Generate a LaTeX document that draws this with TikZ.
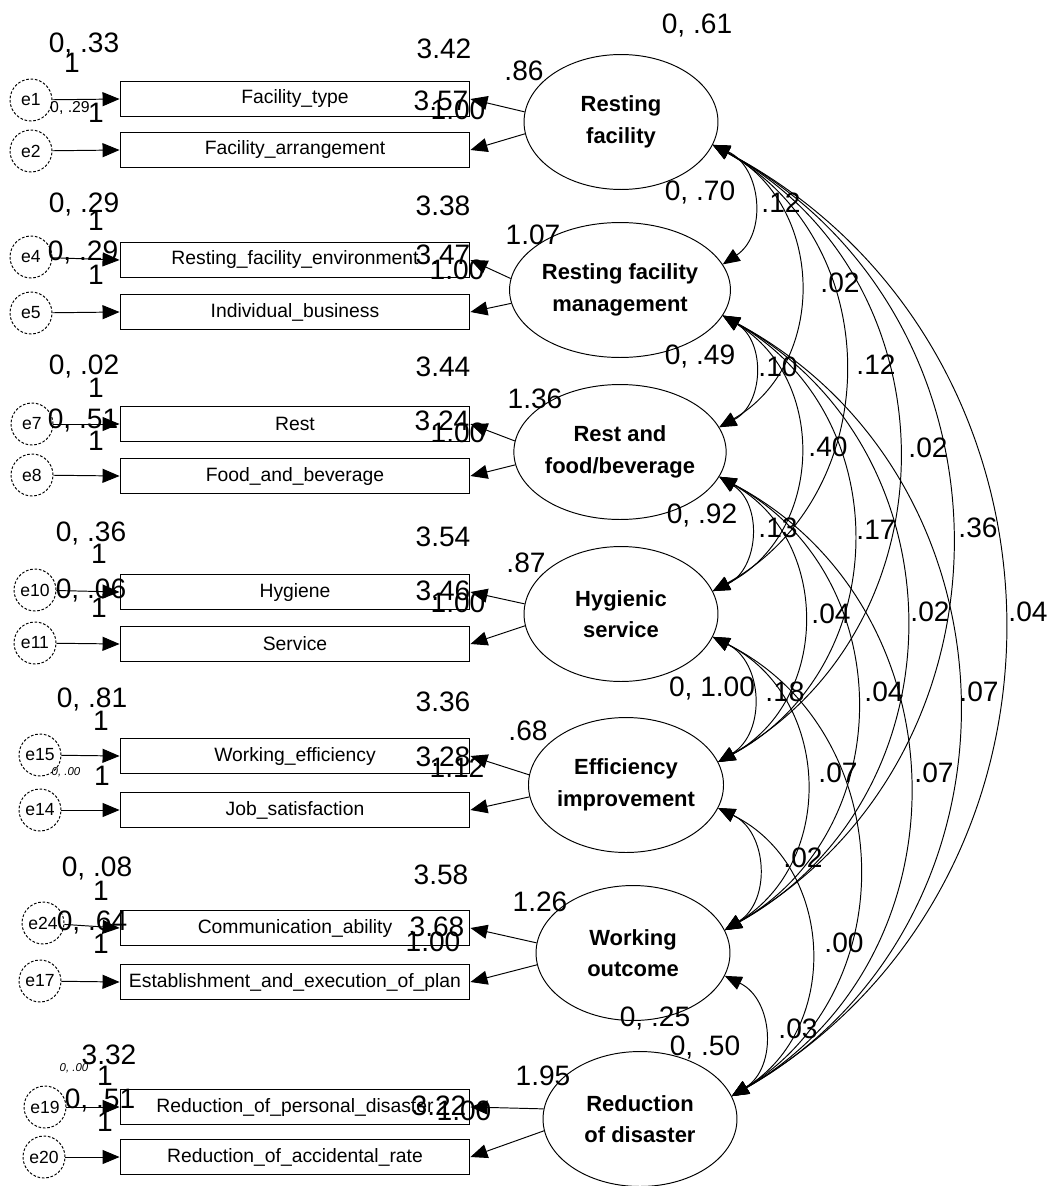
\documentclass[tikz,border=0pt]{standalone}
\usepackage{fontspec}
\setmainfont{Liberation Sans}
\usetikzlibrary{arrows.meta, shapes.geometric}

\begin{document}
\begin{tikzpicture}[x=0.02cm, y=0.02cm, line width=0.55pt,
                    obs/.style={draw, rectangle, minimum width=7cm, minimum height=0.7cm,
                                inner sep=0pt, font=\fontsize{11}{12}\selectfont},
                    lat/.style={draw, ellipse, minimum width=3.88cm, minimum height=2.7cm,
                                inner sep=0pt, align=center, font=\bfseries\fontsize{12.5}{18}\selectfont},
                    err/.style={draw, circle, dash pattern=on 1.5pt off 1pt, minimum size=0.84cm,
                                inner sep=0pt, font=\fontsize{10}{12}\selectfont},
                    tip/.style={-{Triangle[length=0.34cm, width=0.28cm]}},
                    cov/.style={{Triangle[length=0.34cm, width=0.28cm]}-{Triangle[length=0.34cm, width=0.28cm]},
                                bend left=61, looseness=1.15},
                    num/.style={inner sep=0pt, font=\fontsize{16}{18}\selectfont},
                    sml/.style={inner sep=0pt, font=\fontsize{9}{10}\selectfont},
                    tny/.style={inner sep=0pt, font=\itshape\fontsize{6.5}{7}\selectfont}
                ]
                \useasboundingbox (0,0) rectangle (1053,-1186);

                \foreach \n/\y/\t in {ft/99/Facility\_type, fa/150/Facility\_arrangement,
                                      rfe/260/Resting\_facility\_environment, ib/312/Individual\_business,
                                      rest/424/Rest, fb/476/Food\_and\_beverage,
                                      hy/592/Hygiene, sv/644/Service,
                                      we/756/Working\_efficiency, js/810/Job\_satisfaction,
                                      ca/928/Communication\_ability, ep/982/Establishment\_and\_execution\_of\_plan,
                                      rpd/1107/Reduction\_of\_personal\_disaster, rar/1157/Reduction\_of\_accidental\_rate}
                    \node[obs] (\n) at (295,-\y) {\t};

                \foreach \n/\x/\y in {e1/31/100, e2/31/151, e4/31/257, e5/31/313, e7/32/424, e8/32/475,
                                      e10/35/590, e11/35/643, e15/40/755, e14/40/810,
                                      e24/43/923, e17/40/981, e19/45/1107, e20/44/1157}
                    \node[err] (\n) at (\x,-\y) {\n};

                \node[lat] (rf)  at (621,-122)  {Resting\\facility};
                \node[lat] (rfm) at (620,-290)  {Resting facility\\management};
                \node[lat] (rfb) at (620,-452)  {Rest and\\food/beverage};
                \node[lat] (hs)  at (621,-614)  {Hygienic\\service};
                \node[lat] (ei)  at (626,-785)  {Efficiency\\improvement};
                \node[lat] (wo)  at (633,-953)  {Working\\outcome};
                \node[lat] (rd)  at (640,-1119) {Reduction\\of disaster};

                \foreach \e/\o in {e1/ft, e2/fa, e4/rfe, e5/ib, e7/rest, e8/fb, e10/hy, e11/sv,
                                   e15/we, e14/js, e24/ca, e17/ep, e19/rpd, e20/rar}
                    \draw[tip] (\e) -- (\o.west);

                \foreach \l/\a/\b in {rf/ft/fa, rfm/rfe/ib, rfb/rest/fb, hs/hy/sv, ei/we/js, wo/ca/ep, rd/rpd/rar}
                {
                    \draw[tip] (\l.174) -- (\a.east);
                    \draw[tip] (\l.187) -- (\b.east);
                }

                \foreach \a [count=\i] in {rf,rfm,rfb,hs,ei,wo}
                    \foreach \b [count=\j] in {rfm,rfb,hs,ei,wo,rd}
                        {\ifnum\j<\i\else\draw[cov] (\a.-14) to (\b.14);\fi}

                \foreach \t/\x/\y [count=\i] in {{0, .33}/84/44, 3.42/444/49, 3.57/441/101, 1.00/458/110,
                                      .86/524/71, {0, .61}/697/25,
                                      {0, .29}/84/204, {0, .29}/83/252, 3.38/443/206, 3.47/443/255,
                                      1.00/457/270, 1.07/533/235, {0, .70}/700/192,
                                      {0, .02}/84/366, {0, .51}/83/420, 3.44/443/367, 3.24/442/421,
                                      1.00/458/433, 1.36/535/399, {0, .49}/700/356,
                                      {0, .36}/91/533, {0, .06}/91/590, 3.54/443/537, 3.46/443/591,
                                      1.00/458/603, .87/526/563, {0, .92}/702/515,
                                      {0, .81}/92/699, 3.36/443/702, 3.28/443/757, 1.12/457/768,
                                      .68/528/731, {0, 1.00}/712/688,
                                      {0, .08}/97/868, {0, .64}/92/922, 3.58/441/875, 3.68/437/927,
                                      1.00/433/942, 1.26/540/902, {0, .25}/655/1018,
                                      3.32/109/1055, {0, .51}/100/1100, 3.22/439/1106, 1.00/464/1111,
                                      1.95/543/1076, {0, .50}/705/1047}
                    \node[num] (v\i) at (\x,-\y) {\t};

                \foreach \t/\x/\y [count=\i] in {.12/781/203, .02/840/283, .10/778/367, .12/876/365,
                                      .40/828/447, .02/928/448, .13/778/528, .17/876/530, .36/978/528,
                                      .04/831/614, .02/930/612, .04/1028/612, .18/785/692, .04/884/692,
                                      .07/979/692, .07/838/773, .07/934/773, .02/803/858, .00/844/943,
                                      .03/798/1029}
                    \node[num] (c\i) at (\x,-\y) {\t};

                \foreach \x/\y [count=\i] in {72/63, 96/113, 96/221, 96/275, 96/388, 96/441, 99/554, 99/608,
                                              101/721, 102/776, 101/891, 101/944, 105/1076, 105/1122}
                    \node[num] (w\i) at (\x,-\y) {1};

                \node[sml] (s1) at (70,-108) {0, .29};
                \node[tny] (s2) at (66,-772) {0, .00};
                \node[tny] (s3) at (74,-1068) {0, .00};
            \end{tikzpicture}
\end{document}
